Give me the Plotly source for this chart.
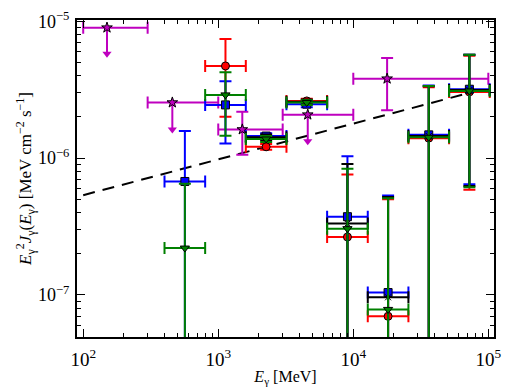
import plotly.graph_objects as go

# ---------------- data ----------------
bin_center = [566, 1131, 2263, 4525, 9051, 18102, 36204, 72408]
bin_lo = [400, 800, 1600, 3200, 6400, 12800, 25600, 51200]
bin_hi = [800, 1600, 3200, 6400, 12800, 25600, 51200, 102400]

red_y = [None, 4.72e-6, 1.21e-6, 2.62e-6, 2.65e-7, 6.97e-8, 1.40e-6, 3.05e-6]
red_top = [None, 7.43e-6, 1.27e-6, 2.72e-6, 7.58e-7, 5.00e-7, 3.30e-6, 5.60e-6]
red_bot = [None, 2.01e-6, 1.15e-6, 2.52e-6, 1e-9, 1e-9, 1e-9, 5.87e-7]

blue_y = [6.75e-7, 2.45e-6, 1.45e-6, 2.48e-6, 3.73e-7, 1.04e-7, 1.48e-6, 3.19e-6]
blue_top = [1.58e-6, 3.65e-6, 1.52e-6, 2.60e-6, 1.03e-6, 5.33e-7, 3.40e-6, 5.70e-6]
blue_bot = [1e-9, 1.28e-6, 1.38e-6, 2.36e-6, 1e-9, 1e-9, 1e-9, 6.45e-7]

black_y = [None, None, 1.42e-6, 2.58e-6, 3.32e-7, 9.60e-8, 1.45e-6, 3.15e-6]
black_top = [None, None, 1.49e-6, 2.68e-6, 9.04e-7, 5.20e-7, 3.35e-6, 5.69e-6]
black_bot = [None, None, 1.35e-6, 2.48e-6, 1e-9, 1e-9, 1e-9, 6.25e-7]

green_y = [2.20e-7, 2.90e-6, 1.38e-6, 2.55e-6, 3.05e-7, 7.83e-8, 1.42e-6, 3.10e-6]
green_top = [6.50e-7, 4.25e-6, 1.45e-6, 2.65e-6, 8.35e-7, 5.08e-7, 3.37e-6, 5.69e-6]
green_bot = [1e-9, 1.46e-6, 1.31e-6, 2.45e-6, 1e-9, 1e-9, 1e-9, 6.13e-7]

# magenta upper limits (stars with arrows)
ul_x = [150, 457, 4600]
ul_lo = [100, 300, 3000]
ul_hi = [300, 1000, 10000]
ul_y = [9.0e-6, 2.55e-6, 2.08e-6]
ul_arrow_end = [5.8e-6, 1.62e-6, 1.33e-6]

# magenta measured points
mg_x = [1507, 17800]
mg_lo = [1000, 10000]
mg_hi = [3000, 100000]
mg_y = [1.62e-6, 3.81e-6]
mg_top = [2.18e-6, 5.39e-6]
mg_bot = [1.06e-6, 2.24e-6]

# dashed model line
model_x = [100, 80000]
model_y = [5.36e-7, 3.08e-6]

# tick labels
x_major = [1e2, 1e3, 1e4, 1e5]
x_labels = ["10<sup>2</sup>", "10<sup>3</sup>", "10<sup>4</sup>", "10<sup>5</sup>"]
y_major = [1e-7, 1e-6, 1e-5]
y_labels = ["10<sup>−7</sup>", "10<sup>−6</sup>", "10<sup>−5</sup>"]

# ---------------- figure ----------------
FONT = "Liberation Serif"
fig = go.Figure()

fig.add_trace(go.Scatter(x=model_x, y=model_y, mode="lines",
                         line=dict(color="black", width=2, dash="12px,8px"),
                         hoverinfo="skip"))

MAG = "#bf00bf"


def series(xs, ys, tops, bots, color, symbol, size, xlo=None, xhi=None, cap=6):
    px, py, ep, em, exp_, exm = [], [], [], [], [], []
    for i, y in enumerate(ys):
        if y is None:
            continue
        px.append(xs[i])
        py.append(y)
        ep.append(tops[i] - y)
        em.append(y - bots[i])
        exp_.append(xhi[i] - xs[i])
        exm.append(xs[i] - xlo[i])
    return go.Scatter(
        x=px, y=py, mode="markers",
        marker=dict(symbol=symbol, size=size, color=color,
                    line=dict(color="black", width=1)),
        error_y=dict(type="data", symmetric=False, array=ep, arrayminus=em,
                     color=color, thickness=2, width=cap),
        error_x=dict(type="data", symmetric=False, array=exp_, arrayminus=exm,
                     color=color, thickness=2, width=cap),
    )


# magenta upper limits: arrows
fig.add_trace(go.Scatter(
    x=ul_x, y=ul_y, mode="markers",
    marker=dict(symbol="star", size=8, color=MAG, line=dict(color="black", width=1)),
    error_y=dict(type="data", symmetric=False, array=[0] * len(ul_y),
                 arrayminus=[y - e for y, e in zip(ul_y, ul_arrow_end)],
                 color=MAG, thickness=2, width=0),
    error_x=dict(type="data", symmetric=False,
                 array=[h - x for h, x in zip(ul_hi, ul_x)],
                 arrayminus=[x - l for l, x in zip(ul_lo, ul_x)],
                 color=MAG, thickness=2, width=6),
))
fig.add_trace(go.Scatter(
    x=ul_x, y=ul_arrow_end, mode="markers",
    marker=dict(symbol="triangle-down", size=8, color=MAG, line=dict(width=0)),
))
fig.add_trace(series(mg_x, mg_y, mg_top, mg_bot, MAG, "star", 8, mg_lo, mg_hi))

fig.add_trace(series(bin_center, red_y, red_top, red_bot, "#ff0000", "circle", 8, bin_lo, bin_hi))
fig.add_trace(series(bin_center, blue_y, blue_top, blue_bot, "#0000ff", "square", 8, bin_lo, bin_hi))
fig.add_trace(series(bin_center, black_y, black_top, black_bot, "#000000", "x-thin", 6, bin_lo, bin_hi))
fig.add_trace(series(bin_center, green_y, green_top, green_bot, "#008000", "triangle-down", 8, bin_lo, bin_hi))

x_minor = [m * 10 ** e for e in (2, 3, 4) for m in range(2, 10)]
y_minor = [m * 10 ** e for e in (-8, -7, -6) for m in range(2, 10) if m * 10 ** e >= 5e-8]

axis_common = dict(
    type="log", showgrid=False, zeroline=False,
    showline=True, linecolor="black", linewidth=2, mirror="ticks",
    ticks="inside", ticklen=8, tickwidth=1, tickcolor="black",
)

fig.update_xaxes(
    range=[1.954, 5.042], tickmode="array", tickvals=x_major, ticktext=x_labels,
    ticklabelstandoff=4,
    tickfont=dict(family=FONT, size=19, color="black"),
    minor=dict(tickmode="array", tickvals=x_minor, ticks="inside", ticklen=4,
               tickwidth=1, tickcolor="black", showgrid=False),
    title=dict(text="<i>E</i><sub>γ</sub> [MeV]", font=dict(family=FONT, size=16, color="black"),
               standoff=2),
    **axis_common,
)
fig.update_yaxes(
    range=[-7.308, -4.99], tickmode="array", tickvals=y_major, ticktext=y_labels,
    ticklabelstandoff=2, ticklabeloverflow="allow",
    tickfont=dict(family=FONT, size=18, color="black"),
    minor=dict(tickmode="array", tickvals=y_minor, ticks="inside", ticklen=4,
               tickwidth=1, tickcolor="black", showgrid=False),
    title=dict(text="<i>E</i><sub>γ</sub><sup>2</sup><i>J</i><sub>γ</sub>(<i>E</i><sub>γ</sub>) [MeV cm<sup>−2</sup> s<sup>−1</sup>]",
               font=dict(family=FONT, size=17, color="black"), standoff=2),
    **axis_common,
)

fig.update_layout(
    width=510, height=392,
    margin=dict(l=77, r=9, t=9, b=51),
    paper_bgcolor="white", plot_bgcolor="white",
    showlegend=False,
    font=dict(family=FONT, color="black"),
)

fig.write_html("out.html")
